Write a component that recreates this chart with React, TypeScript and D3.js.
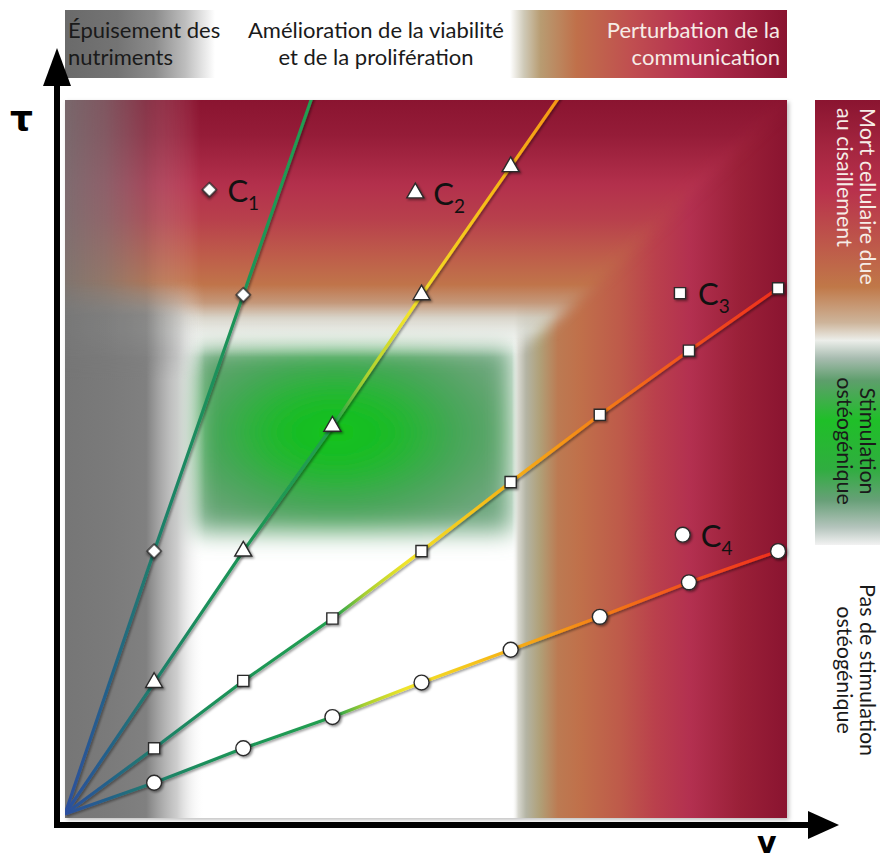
import React from 'react';
import * as d3 from 'd3';

// ---------------- data ----------------
const vValues = [1, 2, 3, 4, 5, 6, 7, 8];
const seriesNames = ['C1', 'C2', 'C3', 'C4'];
const tauC1 = [8.0, 15.8];
const tauC2 = [4.0, 8.0, 11.8, 15.8, 19.7];
const tauC3 = [2.0, 4.05, 5.95, 8.0, 10.1, 12.15, 14.1, 16.0];
const tauC4 = [0.95, 2.0, 2.95, 4.0, 5.0, 6.0, 7.05, 8.0];
const seriesTau = [tauC1, tauC2, tauC3, tauC4];
const seriesExtends = [true, true, false, false];
const seriesSymbols = ['diamond', 'triangle', 'square', 'circle'];
const legendV = [1.62, 3.93, 6.9, 6.93];
const legendTau = [19.0, 18.9, 15.85, 8.5];
const topLabels = [
  ['Épuisement des', 'nutriments'],
  ['Amélioration de la viabilité', 'et de la prolifération'],
  ['Perturbation de la', 'communication'],
];
const sideLabels = [
  ['Mort cellulaire due', 'au cisaillement'],
  ['Stimulation', 'ostéogénique'],
  ['Pas de stimulation', 'ostéogénique'],
];
const axisLabels = ['τ', 'v'];
const vMax = 8.1;
const tauMax = 21.73;

// ---------------- layout ----------------
const W = 880;
const H = 862;
const PX0 = 65;
const PX1 = 787;
const PY0 = 100;
const PY1 = 818;
const FONT = 'Lato, "Open Sans", sans-serif';

const x = d3.scaleLinear().domain([0, vMax]).range([PX0, PX1]);
const y = d3.scaleLinear().domain([0, tauMax]).range([814, PY0]);

type Stop = [number, string, number?];
const Grad = ({ id, x1, y1, x2, y2, stops }: { id: string; x1: number; y1: number; x2: number; y2: number; stops: Stop[] }) => (
  <linearGradient id={id} gradientUnits="userSpaceOnUse" x1={x1} y1={y1} x2={x2} y2={y2}>
    {stops.map((s, i) => (
      <stop key={i} offset={s[0]} stopColor={s[1]} stopOpacity={s[2] ?? 1} />
    ))}
  </linearGradient>
);

const symbolTypes: Record<string, d3.SymbolType> = {
  diamond: d3.symbolSquare,
  triangle: d3.symbolTriangle,
  square: d3.symbolSquare,
  circle: d3.symbolCircle,
};
const symbolSizes: Record<string, number> = { diamond: 100, triangle: 125, square: 125, circle: 175 };
const symbolRot: Record<string, number> = { diamond: 45, triangle: 0, square: 0, circle: 0 };

function Marker({ kind, cx, cy }: { kind: string; cx: number; cy: number }) {
  const p = d3.symbol().type(symbolTypes[kind]).size(symbolSizes[kind])() as string;
  return (
    <path
      d={p}
      transform={`translate(${cx},${cy}) rotate(${symbolRot[kind]})`}
      fill="#ffffff"
      stroke="#2a2a2a"
      strokeWidth={1.4}
      filter="url(#mshadow)"
    />
  );
}

export default function App() {
  const line = d3
    .line<[number, number]>()
    .x((d) => x(d[0]))
    .y((d) => y(d[1]));

  const series = seriesTau.map((taus, si) => {
    const pts: [number, number][] = taus.map((t, i) => [vValues[i], t]);
    const linePts: [number, number][] = [[0, 0], ...pts];
    if (seriesExtends[si]) {
      const n = pts.length;
      const a = pts[n - 2] ?? [0, 0];
      const b = pts[n - 1];
      const slope = (b[1] - a[1]) / (b[0] - a[0]);
      const tEnd = tauMax + 0.3;
      linePts.push([b[0] + (tEnd - b[1]) / slope, tEnd]);
    }
    return { pts, linePts, kind: seriesSymbols[si], name: seriesNames[si] };
  });

  // miter line between top band and right band
  const mit = (yy: number) => PX1 - ((yy - PY0) * 275) / 260;

  return (
    <svg
      width={W}
      height={H}
      viewBox={`0 0 ${W} ${H}`}
      style={{ position: 'absolute', left: 0, top: 0, display: 'block', background: '#fff' }}
    >
      <defs>
        <Grad
          id="lineGrad"
          x1={PX0}
          y1={0}
          x2={PX1}
          y2={0}
          stops={[
            [0, '#2d4f9e'],
            [0.055, '#245f8c'],
            [0.12, '#1f7d6c'],
            [0.19, '#1d8f5c'],
            [0.374, '#21a04e'],
            [0.415, '#a8d030'],
            [0.471, '#f0e42a'],
            [0.575, '#f6c01a'],
            [0.686, '#f59612'],
            [0.81, '#f2621a'],
            [1, '#ee2a1c'],
          ]}
        />
        <Grad
          id="topBand"
          x1={0}
          y1={PY0}
          x2={0}
          y2={360}
          stops={[
            [0, '#8a1430'],
            [0.135, '#951c38'],
            [0.327, '#b3304c'],
            [0.46, '#b8404c'],
            [0.596, '#be5c4a'],
            [0.71, '#c0744a'],
            [0.78, '#c4987a'],
            [0.838, '#d4d0c4', 0.9],
            [0.89, '#e4e6e0', 0.75],
            [0.94, '#eef0ec', 0.4],
            [0.99, '#ffffff', 0],
          ]}
        />
        <Grad
          id="rightBand"
          x1={PX1}
          y1={0}
          x2={500}
          y2={0}
          stops={[
            [0, '#8a1430'],
            [0.164, '#9a2038'],
            [0.338, '#b33050'],
            [0.46, '#ba404c'],
            [0.58, '#be5a4a'],
            [0.721, '#c0704a'],
            [0.798, '#bc7a52'],
            [0.861, '#b0a078'],
            [0.909, '#b4b4a4'],
            [0.937, '#d8d8d0'],
            [0.958, '#ffffff', 0],
          ]}
        />
        <Grad
          id="grayBand"
          x1={PX0}
          y1={0}
          x2={205}
          y2={0}
          stops={[
            [0, '#767676'],
            [0.3, '#7a7a7a'],
            [0.58, '#808080'],
            [0.8, '#b8b8b8', 0.7],
            [1, '#ffffff', 0],
          ]}
        />
        <Grad
          id="patchFade"
          x1={0}
          y1={280}
          x2={0}
          y2={380}
          stops={[
            [0, '#fff', 0],
            [0.35, '#fff', 0.85],
            [0.7, '#fff', 0.85],
            [1, '#fff', 0],
          ]}
        />
        <mask id="patchMask" maskUnits="userSpaceOnUse" x={PX0} y={280} width={150} height={100}>
          <rect x={PX0} y={280} width={150} height={100} fill="url(#patchFade)" />
        </mask>
        <Grad
          id="topFadeGrad"
          x1={PX0}
          y1={0}
          x2={200}
          y2={0}
          stops={[
            [0, '#fff', 0.15],
            [0.3, '#fff', 0.35],
            [0.65, '#fff', 0.75],
            [1, '#fff', 1],
          ]}
        />
        <filter id="blurM" x="-10%" y="-10%" width="120%" height="120%">
          <feGaussianBlur stdDeviation="7" />
        </filter>
        <mask id="topFade" maskUnits="userSpaceOnUse" x={PX0} y={PY0} width={PX1 - PX0} height={270}>
          <rect x={PX0} y={PY0} width={PX1 - PX0} height={270} fill="url(#topFadeGrad)" />
        </mask>
        <mask id="miterMask" maskUnits="userSpaceOnUse" x={0} y={0} width={W} height={H}>
          <polygon
            points={`0,0 ${PX1 + 30},0 ${PX1 + 2},${PY0 - 2} ${mit(380)},380 0,380`}
            fill="#fff"
            filter="url(#blurM)"
          />
        </mask>
        <clipPath id="panelClip">
          <rect x={PX0} y={PY0} width={PX1 - PX0} height={PY1 - PY0} />
        </clipPath>
        <radialGradient id="greenGrad" cx="0.45" cy="0.47" r="0.62">
          <stop offset="0" stopColor="#0ec41a" />
          <stop offset="0.3" stopColor="#1cba28" />
          <stop offset="0.6" stopColor="#44a656" />
          <stop offset="0.85" stopColor="#62a470" />
          <stop offset="1" stopColor="#72a882" />
        </radialGradient>
        <filter id="blurG" x="-25%" y="-25%" width="150%" height="150%">
          <feGaussianBlur stdDeviation="12" />
        </filter>
        <filter id="lshadow" x="-10%" y="-10%" width="120%" height="120%">
          <feDropShadow dx="1.5" dy="1.5" stdDeviation="1" floodColor="#000" floodOpacity="0.4" />
        </filter>
        <filter id="mshadow" x="-50%" y="-50%" width="200%" height="200%">
          <feDropShadow dx="1.5" dy="1.5" stdDeviation="1" floodColor="#000" floodOpacity="0.45" />
        </filter>
        <filter id="pshadow" x="-5%" y="-5%" width="110%" height="110%">
          <feDropShadow dx="2" dy="2" stdDeviation="2" floodColor="#000" floodOpacity="0.25" />
        </filter>
        <Grad
          id="topLeftBox"
          x1={PX0}
          y1={0}
          x2={215}
          y2={0}
          stops={[
            [0, '#6a6a6a'],
            [0.35, '#747474'],
            [0.6, '#8c8c8c'],
            [0.8, '#bdbdbd'],
            [1, '#ffffff'],
          ]}
        />
        <Grad
          id="topRightBox"
          x1={510}
          y1={0}
          x2={PX1}
          y2={0}
          stops={[
            [0, '#ffffff'],
            [0.05, '#cfcab8'],
            [0.11, '#b89c72'],
            [0.24, '#c0704a'],
            [0.44, '#c04e50'],
            [0.65, '#b43050'],
            [1, '#8a1430'],
          ]}
        />
        <Grad
          id="sideGrad"
          x1={0}
          y1={PY0}
          x2={0}
          y2={545}
          stops={[
            [0, '#8a1430'],
            [0.11, '#a52640'],
            [0.2, '#b8304c'],
            [0.33, '#be5a4a'],
            [0.42, '#c07848'],
            [0.5, '#cdb49a'],
            [0.54, '#eceeea'],
            [0.58, '#a8bcb0'],
            [0.63, '#5e9e6c'],
            [0.72, '#1fbf28'],
            [0.83, '#30ad40'],
            [0.9, '#68a078'],
            [0.96, '#b4c4bc'],
            [1, '#f2f2f2'],
          ]}
        />
      </defs>

      {/* top labels */}
      <rect x={PX0} y={10} width={150} height={68} fill="url(#topLeftBox)" />
      <rect x={510} y={10} width={PX1 - 510} height={68} fill="url(#topRightBox)" />
      <g fontFamily={FONT} fontSize={22}>
        <text x={68} y={38} fill="#1a1a1a">{topLabels[0][0]}</text>
        <text x={68} y={65} fill="#1a1a1a">{topLabels[0][1]}</text>
        <text x={376} y={38} textAnchor="middle" fill="#1a1a1a">{topLabels[1][0]}</text>
        <text x={376} y={65} textAnchor="middle" fill="#1a1a1a">{topLabels[1][1]}</text>
        <text x={780} y={38} textAnchor="end" fill="#f6ece6">{topLabels[2][0]}</text>
        <text x={780} y={65} textAnchor="end" fill="#f6ece6">{topLabels[2][1]}</text>
      </g>

      {/* main panel background */}
      <g filter="url(#pshadow)">
        <rect x={PX0} y={PY0} width={PX1 - PX0} height={PY1 - PY0} fill="#ffffff" />
      </g>
      <g clipPath="url(#panelClip)">
        <rect x={192} y={344} width={320} height={188} fill="url(#greenGrad)" filter="url(#blurG)" />
        <rect x={PX0} y={PY0} width={145} height={PY1 - PY0} fill="url(#grayBand)" />
        <rect x={500} y={PY0} width={PX1 - 500} height={PY1 - PY0} fill="url(#rightBand)" />
        <g mask="url(#miterMask)">
          <rect x={PX0} y={PY0} width={PX1 - PX0} height={270} fill="url(#topBand)" mask="url(#topFade)" />
        </g>
        <rect x={PX0} y={280} width={145} height={100} fill="url(#grayBand)" mask="url(#patchMask)" />
      </g>

      {/* side bar */}
      <rect x={815} y={PY0} width={W - 815} height={445} fill="url(#sideGrad)" />
      <g fontFamily={FONT} fontSize={21.5}>
        <g transform={`translate(860,108) rotate(90)`}>
          <text x={0} y={0} fill="#f6ece6">{sideLabels[0][0]}</text>
          <text x={0} y={23} fill="#f6ece6">{sideLabels[0][1]}</text>
        </g>
        <g transform={`translate(860,441) rotate(90)`}>
          <text x={0} y={0} textAnchor="middle" fill="#1a1a1a">{sideLabels[1][0]}</text>
          <text x={0} y={23} textAnchor="middle" fill="#1a1a1a">{sideLabels[1][1]}</text>
        </g>
        <g transform={`translate(860,670) rotate(90)`}>
          <text x={0} y={0} textAnchor="middle" fill="#1a1a1a">{sideLabels[2][0]}</text>
          <text x={0} y={23} textAnchor="middle" fill="#1a1a1a">{sideLabels[2][1]}</text>
        </g>
      </g>

      {/* series lines */}
      <g clipPath="url(#panelClip)" filter="url(#lshadow)">
        {series.map((s) => (
          <path
            key={s.name}
            d={line(s.linePts) as string}
            fill="none"
            stroke="url(#lineGrad)"
            strokeWidth={3.2}
            strokeLinejoin="round"
          />
        ))}
      </g>
      {/* markers */}
      {series.map((s) =>
        s.pts.map((p, i) => <Marker key={s.name + i} kind={s.kind} cx={x(p[0])} cy={y(p[1])} />)
      )}

      {/* legend labels */}
      {series.map((s, i) => {
        const mx = x(legendV[i]);
        const my = y(legendTau[i]);
        return (
          <g key={'lg' + i}>
            <Marker kind={s.kind} cx={mx} cy={my} />
            <text x={mx + 18} y={my + 12} fontFamily={FONT} fontSize={31} fill="#111">
              {s.name[0]}
              <tspan fontSize={19} dy={8}>{s.name.slice(1)}</tspan>
            </text>
          </g>
        );
      })}

      {/* axes */}
      <g fill="#000" stroke="none">
        <rect x={54} y={84} width={6} height={744} />
        <polygon points="57,48 43,86 71,86" />
        <rect x={54} y={822} width={756} height={6} />
        <polygon points="839,825 808,811 808,839" />
      </g>
      <text x={10} y={131} fontFamily='"DejaVu Sans", sans-serif' fontWeight="bold" fontSize={36} fill="#000">
        {axisLabels[0]}
      </text>
      <text x={757} y={853} fontFamily='"DejaVu Sans", sans-serif' fontWeight="bold" fontSize={30} fill="#000">
        {axisLabels[1]}
      </text>
    </svg>
  );
}
